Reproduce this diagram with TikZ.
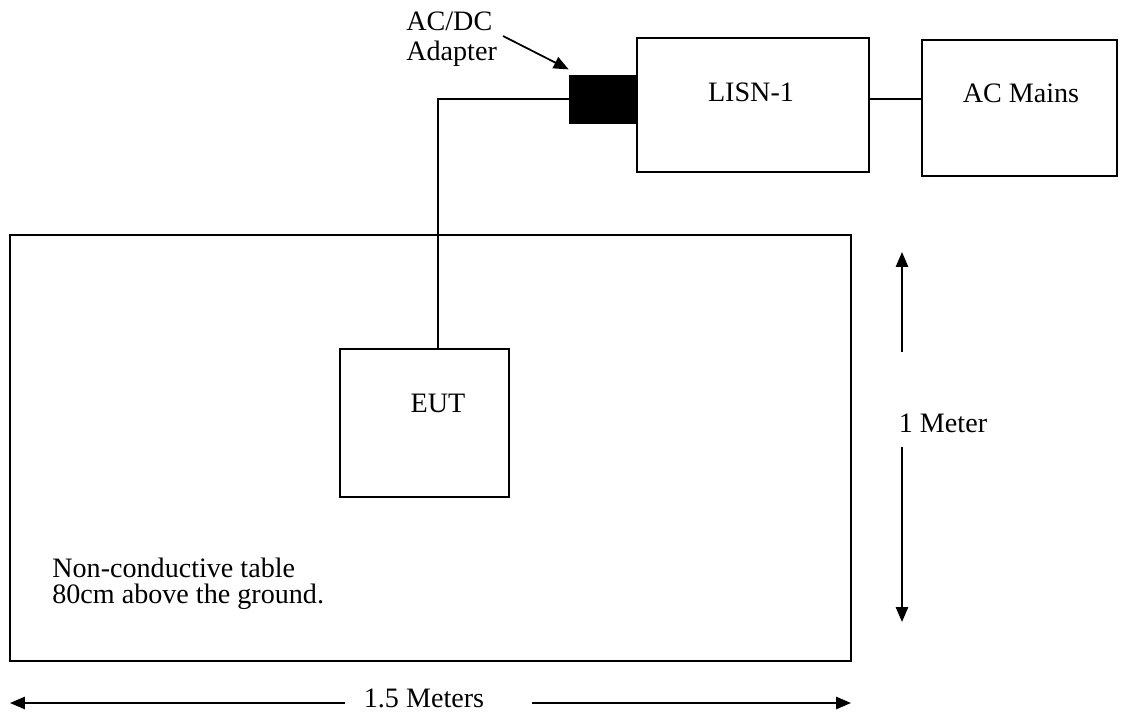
\documentclass[tikz,border=0pt]{standalone}
\usepackage{fontspec}
\setmainfont{Liberation Serif}
\usepackage{tikz}
\usetikzlibrary{arrows.meta}
\tikzset{
  boxP/.style={draw=black, line width=1pt, inner sep=0pt},
  adapM/.style={draw=black, fill=black, inner sep=0pt, minimum width=1.32cm, minimum height=0.96cm},
  wire/.style={line width=1pt},
  dimA/.style={line width=1pt, -{Triangle[length=8.5pt,width=7pt]}},
  lab/.style={font=\fontsize{16}{14}\selectfont, inner sep=0pt},
}

\begin{document}
\begin{tikzpicture}[x=0.02cm, y=-0.02cm]
\useasboundingbox (0,0) rectangle (1123,717);
% boxes
\node[boxP, minimum width=16.82cm, minimum height=8.52cm] (table) at (430.5,448) {};
\node[boxP, minimum width=3.38cm, minimum height=2.96cm] (eut) at (424.5,423) {};
\node[boxP, minimum width=4.64cm, minimum height=2.68cm] (lisn) at (753,105) {};
\node[boxP, minimum width=3.9cm, minimum height=2.72cm] (mains) at (1019.5,108) {};
\node[adapM] (adap) at (602,99) {};
% texts
\node[lab] (eutT) at (438,403) {EUT};
\node[lab] (lisnT) at (751,92) {LISN-1};
\node[lab] (mainsT) at (1021,93) {AC Mains};
\node[lab, font=\fontsize{16}{17}\selectfont, align=left, anchor=west] (adapT) at (406,39) {AC/DC\\Adapter};
\node[lab, font=\fontsize{16}{15}\selectfont, align=left, anchor=west] (tabT) at (52,584) {Non-conductive table\\80cm above the ground.};
\node[lab] (oneM) at (943,423) {1 Meter};
\node[lab] (onefiveM) at (424,698) {1.5 Meters};
% cables
\coordinate (cab) at (438,349);
\draw[wire] (cab) |- (adap.west);
\draw[wire] (adap.east -| lisn.east) -- (adap.east -| mains.west);
\coordinate (adTail) at (503,36);
\draw[dimA] (adTail) -- ([yshift=3pt]adap.north west);
% dimensions
\coordinate (vA) at (902,352); \coordinate (vTop) at (902,252);
\coordinate (vB) at (902,447); \coordinate (vBot) at (902,622);
\coordinate (hA) at (345,703); \coordinate (hLeft) at (10,703);
\coordinate (hB) at (532,703); \coordinate (hRight) at (851,703);
\draw[dimA] (vA) -- (vTop);
\draw[dimA] (vB) -- (vBot);
\draw[dimA] (hA) -- (hLeft);
\draw[dimA] (hB) -- (hRight);
\end{tikzpicture}
\end{document}
